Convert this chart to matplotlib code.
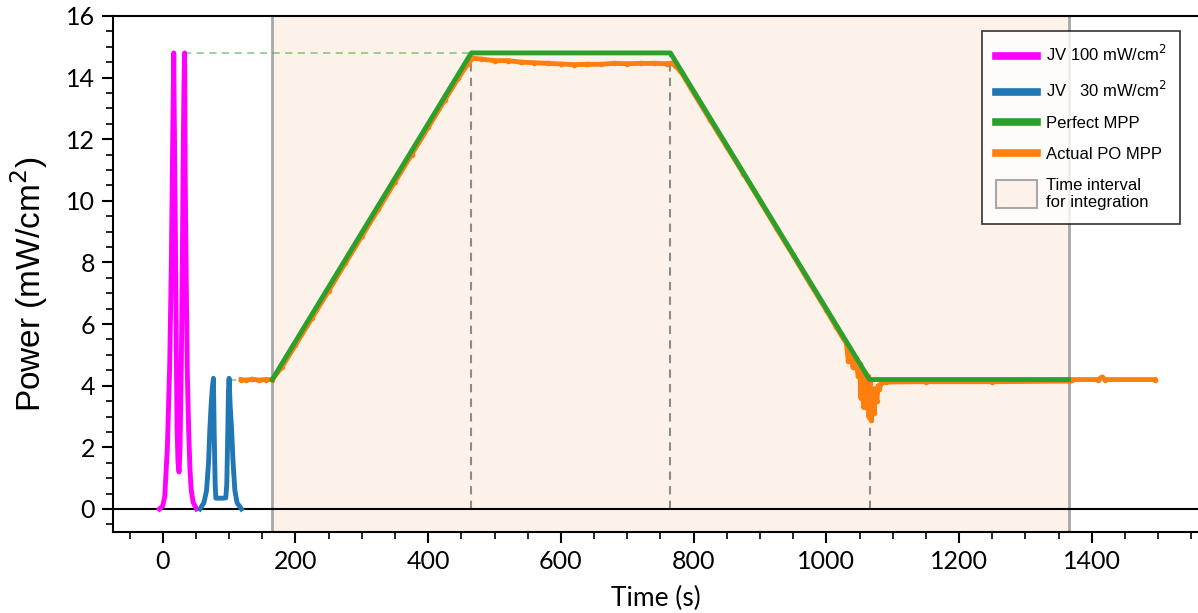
import matplotlib
matplotlib.use("Agg")
import matplotlib.pyplot as plt
from matplotlib.patches import Patch, Rectangle
from matplotlib.lines import Line2D
from matplotlib.legend_handler import HandlerPatch
from matplotlib.ticker import MultipleLocator

# ---------------- data ----------------
jv100_t = [-5, 0, 3, 7, 10.5, 13, 14.6, 16, 16.6, 17.5, 19, 20.5, 21.6, 23, 24.6, 26, 28, 29.5, 30.7, 32, 33, 34, 35.7, 37, 39, 41, 43, 46, 51]
jv100_p = [0, 0.1, 0.4, 2.0, 4.7, 8.0, 11.2, 13.8, 14.8, 12.5, 9.1, 5.0, 2.6, 1.5, 1.2, 1.9, 4.7, 8.0, 11.2, 13.8, 14.8, 10.5, 6.9, 4.5, 2.6, 1.3, 0.6, 0.2, 0]

jv30_t = [56, 62, 66, 69, 71, 73, 75, 76.4, 77.5, 79, 80, 85, 90, 95, 96.5, 98, 99, 100, 101.5, 103.7, 106, 108.7, 112, 118.6]
jv30_p = [0, 0.2, 0.6, 1.5, 2.6, 3.4, 4.0, 4.24, 2.5, 0.8, 0.35, 0.35, 0.35, 0.36, 0.8, 2.5, 3.8, 4.24, 3.4, 2.6, 1.5, 0.6, 0.2, 0]

mpp_t = [165, 465, 765, 1065, 1365]
mpp_p = [4.2, 14.8, 14.8, 4.2, 4.2]

po_t = [118, 125, 135, 145, 155, 165, 180, 200, 225, 250, 275, 300, 325, 350, 375, 400,
        425, 445, 460, 467, 480, 500, 520, 540, 560, 580, 600, 620, 640, 660, 680, 700,
        720, 740, 760, 767, 780, 800, 825, 850, 875, 900, 925, 950, 975, 1000, 1015,
        1025, 1030, 1033, 1036, 1040, 1044, 1048, 1050, 1052, 1054, 1056, 1058, 1060,
        1062, 1064, 1066, 1068, 1070, 1072, 1074, 1076, 1078, 1080, 1083, 1090, 1150,
        1250, 1365, 1370, 1410, 1415, 1420, 1495]
po_p = [4.2, 4.18, 4.21, 4.18, 4.2, 4.2, 4.62, 5.32, 6.2, 7.08, 7.97, 8.85, 9.73, 10.62, 11.5, 12.38,
        13.27, 13.97, 14.45, 14.63, 14.6, 14.55, 14.55, 14.5, 14.48, 14.46, 14.44, 14.42, 14.43, 14.43, 14.46, 14.45,
        14.46, 14.46, 14.45, 14.47, 14.22, 13.5, 12.62, 11.75, 10.88, 10.0, 9.1, 8.23, 7.33, 6.45, 5.9,
        5.55, 5.4, 4.8, 5.2, 4.6, 4.9, 4.3, 4.7, 3.6, 4.5, 3.3, 4.4, 3.5,
        4.3, 3.0, 4.15, 2.9, 3.9, 3.1, 3.9, 3.5, 4.0, 3.9, 4.1, 4.12, 4.13,
        4.13, 4.15, 4.2, 4.2, 4.28, 4.2, 4.2]

interval = [165, 1365]
markers_t = [465, 765, 1065]
markers_p = [14.8, 14.8, 4.2]

xticks = [0, 200, 400, 600, 800, 1000, 1200, 1400]
yticks = [0, 2, 4, 6, 8, 10, 12, 14, 16]

# ---------------- style ----------------
c_mag = "#ff00ff"
c_blue = "#1f77b4"
c_green = "#2ca02c"
c_orange = "#ff7f0e"
c_span = "#fdf2e9"
c_gray = "#a8a8a8"

fig = plt.figure(figsize=(11.98, 6.13), dpi=100)
ax = fig.add_axes([0.0943, 0.132, 0.9057, 0.842])

ax.axvspan(interval[0], interval[1], facecolor=c_span, edgecolor="none", zorder=0)
for xv in interval:
    ax.axvline(xv, color=c_gray, lw=2, zorder=1)
for xv, yv in zip(markers_t, markers_p):
    ax.plot([xv, xv], [0, yv], color="#8c8c8c", lw=1.5, ls=(0, (4, 3)), zorder=1)

ax.axhline(0, color="black", lw=1.5, zorder=2)

# guide dashes from JV peaks
ax.plot([jv100_t[19], mpp_t[1]], [mpp_p[1], mpp_p[1]], color=c_green, alpha=0.5, lw=1.3, ls=(0, (4, 3)), zorder=2)
ax.plot([jv30_t[17], po_t[0]], [mpp_p[0], mpp_p[0]], color=c_green, alpha=0.5, lw=1.3, ls=(0, (4, 3)), zorder=2)

ax.plot(jv100_t, jv100_p, color=c_mag, lw=3.5, zorder=3)
ax.plot(jv30_t, jv30_p, color=c_blue, lw=3.5, zorder=3)
ax.plot(po_t, po_p, color=c_orange, lw=3.5, marker="o", ms=3, zorder=3)
ax.plot(mpp_t, mpp_p, color=c_green, lw=3.5, zorder=4)

ax.set_xlim(-75, 1560)
ax.set_ylim(-0.75, 16)
ax.set_xticks(xticks)
ax.set_yticks(yticks)
ax.xaxis.set_minor_locator(MultipleLocator(50))
ax.yaxis.set_minor_locator(MultipleLocator(0.5))
ax.tick_params(which="major", direction="out", length=8, width=1.5, pad=5)
ax.tick_params(which="minor", direction="out", length=5, width=1.2)
for lab in ax.get_xticklabels() + ax.get_yticklabels():
    lab.set_fontfamily("Lato")
    lab.set_fontsize(18)
for s in ax.spines.values():
    s.set_linewidth(1.5)
ax.spines["right"].set_visible(False)

ax.set_xlabel("Time (s)", fontfamily="Lato", fontsize=19, labelpad=9)
ax.set_ylabel("Power (mW/cm$^2$)", fontfamily="Liberation Sans", fontsize=24)
ax.yaxis.set_label_coords(-0.058, 0.48)


def tall_box(legend, orig_handle, xdescent, ydescent, width, height, fontsize):
    h = 20.0
    return Rectangle((-xdescent, -ydescent + height / 2 - h / 2), width, h)


handles = [
    Line2D([], [], color=c_mag, lw=5.5),
    Line2D([], [], color=c_blue, lw=5.5),
    Line2D([], [], color=c_green, lw=5.5),
    Line2D([], [], color=c_orange, lw=5.5),
    Patch(facecolor=c_span, edgecolor=c_gray, lw=1.5),
]
labels = ["JV 100 mW/cm$^2$", "JV   30 mW/cm$^2$", "Perfect MPP", "Actual PO MPP",
          "Time interval\nfor integration"]
leg = fig.legend(handles, labels, loc="upper right", bbox_to_anchor=(1180 / 1198, 1 - 31 / 613),
                 borderaxespad=0, frameon=True, fancybox=False, edgecolor="black",
                 prop={"family": "Liberation Sans", "size": 12}, handlelength=2.5,
                 handleheight=0.7, handletextpad=0.5, labelspacing=0.95, borderpad=0.8,
                 handler_map={Patch: HandlerPatch(patch_func=tall_box)})
leg.get_frame().set_linewidth(1.2)

fig.savefig("out.png", dpi=100)
